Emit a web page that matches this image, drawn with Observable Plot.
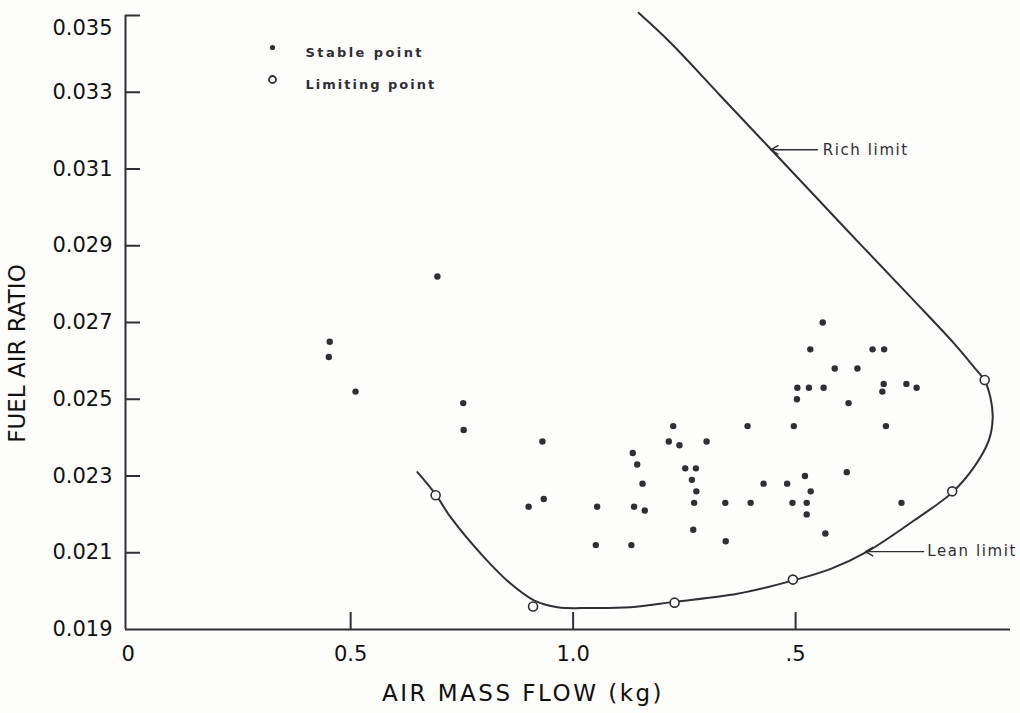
<!DOCTYPE html>
<html><head><meta charset="utf-8">
<script src="https://cdn.jsdelivr.net/npm/d3@7"></script>
<script src="https://cdn.jsdelivr.net/npm/@observablehq/plot@0.6"></script>
<style>
html,body{margin:0;padding:0;background:#fdfdfc;}
#chart{width:1020px;height:713px;}
</style></head><body><div id="chart"></div>
<script>
// Tick values and labels
const xTicks = [0, 0.5, 1.0, 1.5];
const xTickLabels = ["0", "0.5", "1.0", ".5"];
const yTicks = [0.019, 0.021, 0.023, 0.025, 0.027, 0.029, 0.031, 0.033, 0.035];
const yTickLabels = ["0.019", "0.021", "0.023", "0.025", "0.027", "0.029", "0.031", "0.033", "0.035"];

// Stable points
const stableX = [0.453,0.451,0.511,0.695,0.753,0.754,0.931,0.900,0.934,1.054,
  1.051,1.134,1.144,1.156,1.137,1.161,1.131,1.225,1.215,1.239,
  1.300,1.252,1.276,1.267,1.277,1.272,1.270,1.342,1.343,1.392,
  1.399,1.428,1.481,1.493,1.496,1.503,1.504,1.530,1.563,1.521,
  1.534,1.525,1.525,1.567,1.533,1.561,1.588,1.639,1.619,1.673,
  1.699,1.698,1.695,1.749,1.772,1.703,1.615,1.738];
const stableY = [0.0265,0.0261,0.0252,0.0282,0.0249,0.0242,0.0239,0.0222,0.0224,0.0222,
  0.0212,0.0236,0.0233,0.0228,0.0222,0.0221,0.0212,0.0243,0.0239,0.0238,
  0.0239,0.0232,0.0232,0.0229,0.0226,0.0223,0.0216,0.0223,0.0213,0.0243,
  0.0223,0.0228,0.0228,0.0223,0.0243,0.0250,0.0253,0.0253,0.0253,0.0230,
  0.0226,0.0223,0.0220,0.0215,0.0263,0.0270,0.0258,0.0258,0.0249,0.0263,
  0.0263,0.0254,0.0252,0.0254,0.0253,0.0243,0.0231,0.0223];

// Limiting points
const limX = [0.691, 0.910, 1.228, 1.494, 1.852, 1.925];
const limY = [0.0225, 0.0196, 0.0197, 0.0203, 0.0226, 0.0255];

// Stability boundary (lean limit -> nose -> rich limit)
const curveX = [0.650,0.691,0.725,0.800,0.860,0.912,0.965,1.039,1.129,1.228,1.369,1.495,1.579,1.661,1.766,1.851,1.901,1.934,1.943,1.938,1.925,1.900,1.855,1.766,1.612,1.444,1.331,1.219,1.147];
const curveY = [0.02310,0.02252,0.02192,0.02088,0.02019,0.01976,0.01958,0.01956,0.01958,0.01972,0.01993,0.02028,0.02058,0.02103,0.02184,0.02256,0.02323,0.02392,0.02452,0.02504,0.02548,0.02585,0.02647,0.02757,0.02945,0.03152,0.03291,0.03429,0.03507];

// Annotations
const annotLabels = ["Rich limit", "Lean limit"];
const annotFromX = [1.549, 1.788];
const annotToX = [1.444, 1.657];
const annotY = [0.0315, 0.02103];
const annotTextX = [1.561, 1.796];

const legendLabels = ["Stable point", "Limiting point"];

const stable = stableX.map((x, i) => ({x, y: stableY[i]}));
const limiting = limX.map((x, i) => ({x, y: limY[i]}));
const curve = curveX.map((x, i) => ({x, y: curveY[i]}));
const annots = annotLabels.map((t, i) => ({t, x1: annotFromX[i], x2: annotToX[i], y: annotY[i], tx: annotTextX[i]}));

const ink = "#2f2f36";
const xDomain = [-0.006, 1.983];
const yLabelFmt = d => yTickLabels[yTicks.indexOf(d)];
const xTitle = "AIR MASS FLOW (kg)";

const chart = Plot.plot({
  width: 1020, height: 713,
  marginLeft: 125, marginRight: 10, marginTop: 15, marginBottom: 84,
  style: {background: "#fdfdfc", fontFamily: "'DejaVu Sans', sans-serif", color: ink},
  x: {domain: xDomain, label: null},
  y: {domain: [0.019, 0.035], label: null},
  marks: [
    Plot.ruleY([0.019], {stroke: ink, strokeWidth: 2}),
    Plot.ruleX([xDomain[0]], {stroke: ink, strokeWidth: 2}),
    Plot.tickY(yTicks.slice(1), {y: d => d, insetRight: 870, stroke: ink, strokeWidth: 2}),
    Plot.tickX(xTicks.slice(1), {x: d => d, insetTop: 597, stroke: ink, strokeWidth: 2}),
    Plot.axisY(yTicks.slice(0, -1), {tickSize: 0, tickPadding: 13, fontSize: 21, label: null, fill: "#111", tickFormat: yLabelFmt}),
    Plot.axisY(yTicks.slice(-1), {tickSize: 0, tickPadding: 13, fontSize: 21, label: null, fill: "#111", dy: 13, tickFormat: yLabelFmt}),
    Plot.axisX(xTicks, {tickSize: 0, tickPadding: 17, fontSize: 21, label: null, fill: "#111",
      tickFormat: d => xTickLabels[xTicks.indexOf(d)]}),
    Plot.text([xTitle], {frameAnchor: "bottom", dx: -45, dy: 64, text: d => d, textAnchor: "middle",
      fontSize: 23, fill: "#111", lineAnchor: "middle"}),
    Plot.text(["FUEL AIR RATIO"], {frameAnchor: "left", dx: -108, dy: 31, rotate: -90, text: d => d, textAnchor: "middle",
      fontSize: 23, fill: "#111", lineAnchor: "middle"}),
    Plot.line(curve, {x: "x", y: "y", curve: "catmull-rom", stroke: ink, strokeWidth: 2}),
    Plot.dot(stable, {x: "x", y: "y", r: 3.2, fill: ink, stroke: "none"}),
    Plot.dot(limiting, {x: "x", y: "y", r: 4.5, fill: "#fff", stroke: ink, strokeWidth: 1.6}),
    Plot.arrow(annots, {x1: "x1", y1: "y", x2: "x2", y2: "y", stroke: ink, strokeWidth: 1.4, headLength: 9}),
    Plot.text(annots, {x: "tx", y: "y", text: "t", textAnchor: "start", fontSize: 15, fill: ink}),
    Plot.dot([legendLabels[0]], {frameAnchor: "top-left", dx: 147, dy: 32, r: 2.6, fill: ink}),
    Plot.dot([legendLabels[1]], {frameAnchor: "top-left", dx: 147, dy: 64, r: 3.5, fill: "#fff", stroke: ink, strokeWidth: 1.8}),
    Plot.text([legendLabels[0]], {frameAnchor: "top-left", dx: 180, dy: 32, text: d => d, textAnchor: "start",
      fontSize: 13, fontWeight: "bold", fill: ink}),
    Plot.text([legendLabels[1]], {frameAnchor: "top-left", dx: 180, dy: 64, text: d => d, textAnchor: "start",
      fontSize: 13, fontWeight: "bold", fill: ink})
  ]
});
document.getElementById("chart").appendChild(chart);
chart.querySelectorAll("text").forEach(t => {
  const s = t.textContent;
  if (s === xTitle) t.setAttribute("letter-spacing", "2.5");
  else if (s === legendLabels[0]) t.setAttribute("letter-spacing", "2.4");
  else if (s === legendLabels[1]) t.setAttribute("letter-spacing", "2");
  else if (annotLabels.includes(s)) t.setAttribute("letter-spacing", "1.6");
});
</script>
</body></html>
